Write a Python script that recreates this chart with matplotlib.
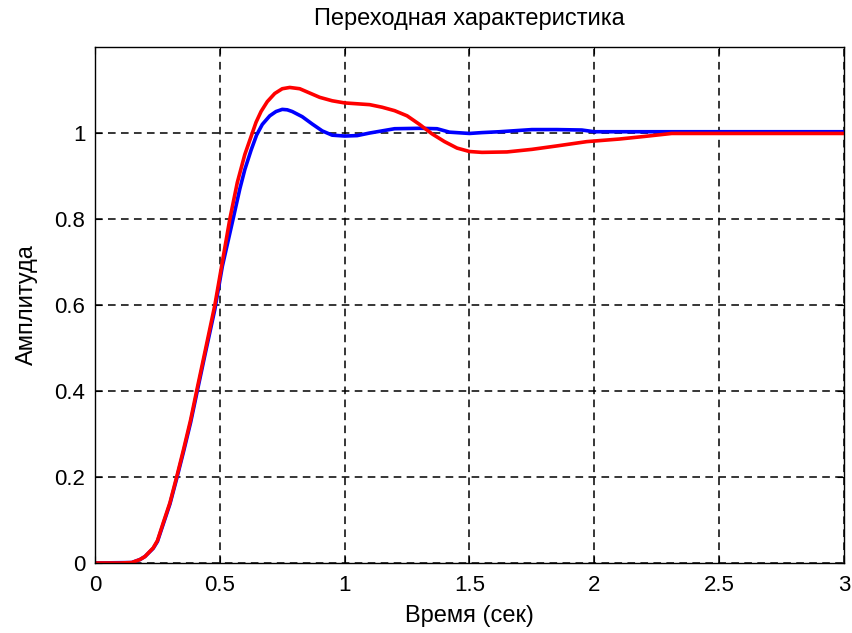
import numpy as np
import matplotlib
matplotlib.use("Agg")
import matplotlib.pyplot as plt

# step response
t_blue = [0, 0.147, 0.18, 0.20, 0.233, 0.25, 0.273, 0.30, 0.327, 0.355, 0.383,
          0.407, 0.44, 0.48, 0.51, 0.553, 0.58, 0.60, 0.625, 0.647, 0.67, 0.70,
          0.725, 0.75, 0.77, 0.79, 0.83, 0.87, 0.91, 0.95, 1.00, 1.05, 1.10, 1.15,
          1.20, 1.30, 1.37, 1.42, 1.50, 1.55, 1.62, 1.75, 1.85, 1.95, 2.00, 3.00]
y_blue = [0, 0.001, 0.008, 0.015, 0.034, 0.050, 0.090, 0.137, 0.196, 0.26, 0.327,
          0.393, 0.483, 0.59, 0.69, 0.80, 0.87, 0.915, 0.96, 0.995, 1.02, 1.04,
          1.05, 1.055, 1.054, 1.050, 1.038, 1.021, 1.005, 0.995, 0.993, 0.994, 1.000,
          1.005, 1.010, 1.011, 1.010, 1.002, 0.999, 1.001, 1.003, 1.008, 1.008,
          1.007, 1.003, 1.003]

t_red = [0, 0.10, 0.147, 0.18, 0.20, 0.233, 0.25, 0.273, 0.30, 0.327, 0.355,
         0.383, 0.407, 0.44, 0.48, 0.51, 0.54, 0.57, 0.60, 0.627, 0.645, 0.665,
         0.69, 0.72, 0.75, 0.78, 0.82, 0.86, 0.90, 0.95, 1.00, 1.05, 1.10, 1.15,
         1.20, 1.25, 1.30, 1.35, 1.40, 1.45, 1.50, 1.55, 1.65, 1.75, 1.85, 1.97,
         2.10, 2.20, 2.31, 2.50, 3.00]
y_red = [0, 0, 0.001, 0.008, 0.015, 0.035, 0.052, 0.093, 0.14, 0.20, 0.265,
         0.333, 0.40, 0.49, 0.60, 0.70, 0.80, 0.885, 0.95, 0.995, 1.025, 1.05,
         1.073, 1.092, 1.103, 1.106, 1.103, 1.093, 1.083, 1.075, 1.070, 1.068, 1.066,
         1.060, 1.052, 1.040, 1.020, 0.998, 0.980, 0.965, 0.957, 0.955, 0.956, 0.962,
         0.970, 0.980, 0.986, 0.992, 0.999, 0.999, 0.999]

XTICKS = [0, 0.5, 1, 1.5, 2, 2.5, 3]
XLABELS = ["0", "0.5", "1", "1.5", "2", "2.5", "3"]
YTICKS = [0, 0.2, 0.4, 0.6, 0.8, 1]
YLABELS = ["0", "0.2", "0.4", "0.6", "0.8", "1"]

plt.rcParams["font.family"] = ["Liberation Sans", "DejaVu Sans"]

fig = plt.figure(figsize=(8.53, 6.33), dpi=100)
ax = fig.add_axes([0.1114, 0.1106, 0.8780, 0.8151])

ax.plot(t_blue, y_blue, color="#0000ff", linewidth=2.6)
ax.plot(t_red, y_red, color="#ff0000", linewidth=2.6)

ax.set_xlim(0, 3)
ax.set_ylim(0, 1.2)
ax.set_xticks(XTICKS)
ax.set_xticklabels(XLABELS)
ax.set_yticks(YTICKS)
ax.set_yticklabels(YLABELS)
ax.tick_params(direction="in", top=True, right=True, labelsize=16, length=5)
ax.tick_params(axis="x", pad=9)
ax.tick_params(axis="y", pad=7)
ax.grid(True, color="black", linestyle=(0, (5, 3.5)), linewidth=1.1)
for s in ax.spines.values():
    s.set_linewidth(1.0)

ax.set_xlabel("Время (сек)", fontsize=17, labelpad=6)
ax.set_ylabel("Амплитуда", fontsize=17, labelpad=12)
ax.set_title("Переходная характеристика", fontsize=17, pad=16)

fig.savefig("out.png", dpi=100)
plt.close(fig)
